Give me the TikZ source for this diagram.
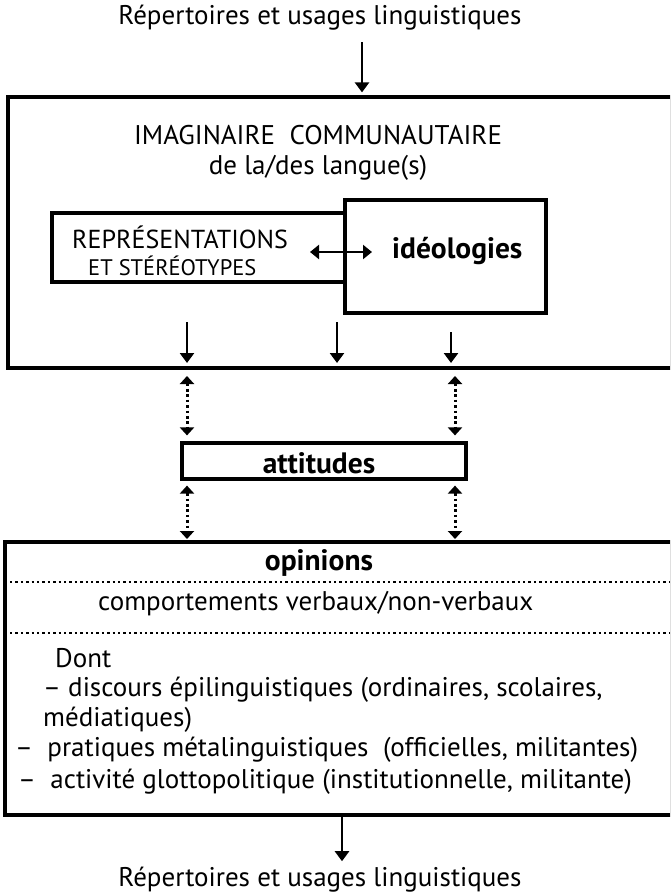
\documentclass[tikz,border=0pt]{standalone}
\usepackage{fontspec}
\setmainfont{PT Sans}
\usetikzlibrary{arrows.meta}
\begin{document}
\begin{tikzpicture}[x=1pt,y=-1pt,
  box/.style={draw,line width=3.2pt,inner sep=0pt},
  arr/.style={line width=2.6pt,-{Triangle[length=10pt,width=14pt]}},
  darr/.style={line width=3pt,dash pattern=on 2.6pt off 2.8pt,{Triangle[length=8pt,width=14pt]}-{Triangle[length=8pt,width=14pt]}},
  txt/.style={inner sep=0pt,anchor=center,font=\fontsize{27}{32}\selectfont},
  ltxt/.style={inner sep=0pt,anchor=west,font=\fontsize{27}{32}\selectfont},
  btxt/.style={inner sep=0pt,font=\fontsize{29.5}{34}\selectfont\bfseries},
  sep/.style={line width=2.6pt,dash pattern=on 2.4pt off 3pt}]
\useasboundingbox (0,0) rectangle (670,894);
\clip (0,0) rectangle (670,894);
% texts top / bottom
\node[txt] (top) at (320,18) {Répertoires et usages linguistiques};
\node[txt] (bot) at (320,880) {Répertoires et usages linguistiques};
% big box 1
\node[box,minimum width=664pt,minimum height=271pt] (imag) at (340,232.5) {};
\node[txt] (t1) at (318,135) {IMAGINAIRE\ \ COMMUNAUTAIRE};
\node[txt] (t2) at (318,168) {de la/des langue(s)};
\node[box,minimum width=293pt,minimum height=69pt] (rep) at (198.5,247.5) {};
\node[box,minimum width=201pt,minimum height=113pt] (ideo) at (445.5,256.5) {};
\node[ltxt,font=\fontsize{26}{30}\selectfont] (rept) at (72,237) {REPRÉSENTATIONS};
\node[ltxt,font=\fontsize{22.5}{26}\selectfont] (stet) at (88,266) {ET STÉRÉOTYPES};
\node[btxt,anchor=west] (ideot) at (392,251) {idéologies};
\coordinate (dl) at (310,252);
\coordinate (dr) at (372,252);
\draw[line width=2.6pt,{Triangle[length=9pt,width=14pt]}-{Triangle[length=9pt,width=14pt]}] (dl) -- (dr);
% attitudes box
\node[box,minimum width=284pt,minimum height=36pt] (att) at (324,461) {};
\node[btxt] (attt) at (319,463) {attitudes};
% box 2
\node[box,minimum width=667pt,minimum height=273pt] (opi) at (338.5,678.5) {};
\node[btxt] (opit) at (319,563) {opinions};
\coordinate (s1l) at (10,582); \coordinate (s1r) at (670,582);
\coordinate (s2l) at (10,633); \coordinate (s2r) at (670,633);
\draw[sep] (s1l) -- (s1r);
\draw[sep] (s2l) -- (s2r);
\node[ltxt] (comp) at (98,604) {comportements verbaux/non-verbaux};
\node[ltxt] (dont) at (55,658) {Dont};
\node[ltxt] (l1) at (43,690) {– discours épilinguistiques (ordinaires, scolaires,};
\node[ltxt] (l2) at (43,720) {médiatiques)};
\node[ltxt] (l3) at (15,750) {–\ \ pratiques métalinguistiques\ \ (officielles, militantes)};
\node[ltxt] (l4) at (18,782) {–\ \ activité glottopolitique (institutionnelle, militante)};
% arrows
\coordinate (a0) at (362,42);
\draw[arr] (a0) -- ([yshift=3pt]a0 |- imag.north);
\coordinate (i1) at (187,322);
\coordinate (i2) at (337,322);
\coordinate (i3) at (451,332);
\coordinate (e1) at (187,363);
\coordinate (e2) at (337,363);
\coordinate (e3) at (451,363);
\draw[arr] (i1) -- (e1);
\draw[arr] (i2) -- (e2);
\draw[arr] (i3) -- (e3);
\coordinate (u1) at (187,376); \coordinate (u2) at (455,376);
\draw[darr] (u1) -- ([yshift=6pt]u1 |- att.north);
\draw[darr] (u2) -- ([yshift=6pt]u2 |- att.north);
\coordinate (v1) at (187,539); \coordinate (v2) at (455,539);
\draw[darr] ([yshift=-5pt]v1 |- att.south) -- (v1);
\draw[darr] ([yshift=-5pt]v2 |- att.south) -- (v2);
\coordinate (b0) at (342,822);
\draw[arr] (b0 |- opi.south) -- ([yshift=6pt]bot.north -| b0);
\end{tikzpicture}
\end{document}
